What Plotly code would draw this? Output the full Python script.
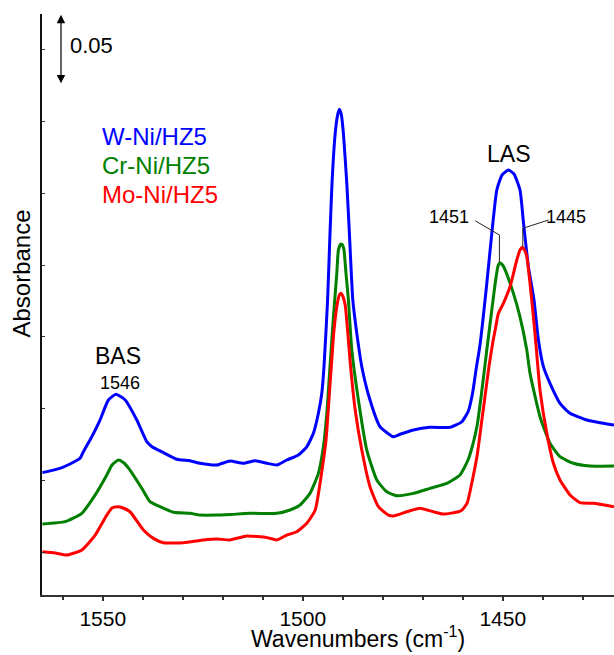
import plotly.graph_objects as go

FONT = "Liberation Sans, Arial, sans-serif"

# ---------------- data (wavenumber cm-1, absorbance a.u.) ----------------
wn_w = [1565.1, 1560.7, 1558.2, 1555.7, 1554.85, 1552.75, 1550.7, 1548.6, 1546.7, 1544.4,
        1541.5, 1539.0, 1537.7, 1534.85, 1531.5, 1528.2, 1525.7, 1521.5, 1518.2, 1514.85,
        1511.9, 1509.0, 1506.5, 1504.0, 1501.1, 1499.0, 1497.35, 1496.1, 1495.25, 1494.7,
        1493.8, 1493.2, 1492.7, 1491.9, 1491.3, 1490.85, 1490.35, 1489.85, 1489.0, 1488.35,
        1487.5, 1486.5, 1485.25, 1483.2, 1480.7, 1477.35, 1475.7, 1472.35, 1468.2, 1463.2,
        1460.25, 1458.6, 1457.55, 1456.7, 1455.7, 1454.0, 1452.75, 1451.5, 1450.2, 1448.6,
        1447.2, 1445.7, 1444.85, 1443.6, 1442.2, 1441.1, 1439.85, 1438.2, 1435.7, 1433.2,
        1429.0, 1425.7, 1422.2]
abs_w = [0.1056, 0.1086, 0.1116, 0.1156, 0.1202, 0.1306, 0.1422, 0.1561, 0.1601, 0.1561,
         0.1422, 0.1271, 0.1236, 0.1195, 0.1149, 0.1139, 0.1121, 0.1109, 0.1137, 0.1121,
         0.1139, 0.1121, 0.1109, 0.1144, 0.1179, 0.1236, 0.1330, 0.1469, 0.1608, 0.1793,
         0.2257, 0.2720, 0.3068, 0.3416, 0.3543, 0.3583, 0.3543, 0.3416, 0.3068, 0.2720,
         0.2257, 0.2025, 0.1793, 0.1561, 0.1376, 0.1306, 0.1323, 0.1353, 0.1371, 0.1371,
         0.1410, 0.1485, 0.1610, 0.1770, 0.1944, 0.2373, 0.2720, 0.3022, 0.3126, 0.3161,
         0.3133, 0.3022, 0.2800, 0.2488, 0.2257, 0.1978, 0.1793, 0.1677, 0.1538, 0.1469,
         0.1422, 0.1403, 0.1387]

wn_cr = [1565.1, 1559.4, 1555.25, 1551.9, 1549.0, 1547.7, 1546.1, 1544.7, 1543.2, 1540.25,
         1538.2, 1535.7, 1532.35, 1528.2, 1525.7, 1521.5, 1518.2, 1513.2, 1506.5, 1503.2,
         1500.7, 1498.2, 1496.1, 1494.85, 1494.0, 1493.2, 1492.4, 1491.5, 1491.1, 1490.5,
         1490.05, 1489.7, 1489.2, 1488.6, 1487.75, 1486.1, 1484.0, 1481.5, 1479.0, 1476.5,
         1472.35, 1468.2, 1464.0, 1460.7, 1458.7, 1457.4, 1456.4, 1455.4, 1454.0, 1452.75,
         1451.9, 1451.2, 1450.7, 1450.05, 1449.4, 1447.35, 1445.7, 1444.0, 1443.2, 1440.7,
         1438.2, 1435.7, 1432.35, 1428.2, 1422.2]
abs_cr = [0.0699, 0.0715, 0.0773, 0.0901, 0.1040, 0.1109, 0.1144, 0.1123, 0.1074, 0.0947,
          0.0854, 0.0819, 0.0780, 0.0773, 0.0761, 0.0761, 0.0765, 0.0773, 0.0773, 0.0796,
          0.0831, 0.0912, 0.1051, 0.1236, 0.1469, 0.1793, 0.2118, 0.2442, 0.2604, 0.2646,
          0.2639, 0.2604, 0.2442, 0.2257, 0.1909, 0.1561, 0.1213, 0.1005, 0.0923, 0.0896,
          0.0912, 0.0947, 0.0982, 0.1040, 0.1144, 0.1262, 0.1387, 0.1589, 0.1909, 0.2187,
          0.2373, 0.2493, 0.2516, 0.2500, 0.2465, 0.2303, 0.2140, 0.1909, 0.1747, 0.1445,
          0.1260, 0.1167, 0.1121, 0.1102, 0.1102]

wn_mo = [1565.1, 1561.9, 1559.0, 1555.25, 1551.9, 1549.0, 1547.7, 1546.35, 1544.9, 1543.2,
         1539.85, 1537.35, 1534.85, 1529.85, 1524.85, 1521.5, 1518.2, 1514.0, 1509.0, 1506.5,
         1504.0, 1501.5, 1499.0, 1496.9, 1495.2, 1494.2, 1493.2, 1492.2, 1491.3, 1490.8,
         1490.4, 1489.9, 1489.4, 1488.6, 1488.2, 1486.9, 1485.25, 1483.2, 1481.1, 1478.6,
         1477.35, 1474.0, 1470.7, 1467.35, 1464.85, 1461.1, 1460.2, 1458.9, 1457.7, 1456.4,
         1455.4, 1454.4, 1453.4, 1452.4, 1451.9, 1451.1, 1449.85, 1448.2, 1446.5, 1445.7,
         1445.1, 1444.55, 1444.0, 1443.2, 1442.35, 1441.7, 1440.7, 1439.0, 1437.35, 1435.7,
         1433.2, 1430.7, 1427.35, 1422.2]
abs_mo = [0.0506, 0.0497, 0.0483, 0.0518, 0.0622, 0.0761, 0.0810, 0.0819, 0.0810, 0.0784,
          0.0657, 0.0599, 0.0569, 0.0569, 0.0588, 0.0595, 0.0588, 0.0615, 0.0604, 0.0588,
          0.0622, 0.0645, 0.0704, 0.0796, 0.1074, 0.1283, 0.1666, 0.2048, 0.2243, 0.2295,
          0.2303, 0.2277, 0.2222, 0.1978, 0.1839, 0.1492, 0.1213, 0.0958, 0.0819, 0.0761,
          0.0755, 0.0784, 0.0808, 0.0784, 0.0768, 0.0784, 0.0796, 0.0845, 0.0991, 0.1179,
          0.1387, 0.1596, 0.1805, 0.1978, 0.2048, 0.2164, 0.2234, 0.2349, 0.2535, 0.2604,
          0.2623, 0.2604, 0.2558, 0.2373, 0.2140, 0.1944, 0.1631, 0.1330, 0.1121, 0.1005,
          0.0901, 0.0847, 0.0843, 0.0819]

series_names = ["W-Ni/HZ5", "Cr-Ni/HZ5", "Mo-Ni/HZ5"]
series_colors = ["#0000ff", "#007f00", "#ff0000"]
x_ticks = [1550, 1500, 1450]
y_ticks = [0.05, 0.10, 0.15, 0.20, 0.25, 0.30, 0.35, 0.40]

fig = go.Figure()
for wn, ab, col, nm in zip([wn_w, wn_cr, wn_mo], [abs_w, abs_cr, abs_mo],
                           series_colors, series_names):
    fig.add_trace(go.Scatter(x=wn, y=ab, mode="lines", name=nm, showlegend=False,
                             hoverinfo="skip",
                             line=dict(color=col, width=3, shape="spline", smoothing=0.5)))

# leader lines for peak labels
fig.add_shape(type="path", path="M 1456.9 0.2808 L 1450.85 0.2709 L 1450.85 0.2523",
              xref="x", yref="y", line=dict(color="#222", width=1))
fig.add_shape(type="path", path="M 1438.6 0.2813 L 1445.0 0.2755 L 1445.0 0.2627",
              xref="x", yref="y", line=dict(color="#222", width=1))

ann = []
for nm, col, yy in zip(series_names, series_colors, [0.790, 0.740, 0.6885]):
    ann.append(dict(text=nm, x=0.1014, y=yy, xref="paper", yref="paper", xanchor="left",
                    yanchor="middle", showarrow=False, font=dict(size=24, color=col, family=FONT)))
ann += [
    dict(text="BAS", x=1546.2, y=0.1867, xref="x", yref="y", showarrow=False,
         font=dict(size=23, color="black", family=FONT)),
    dict(text="1546", x=1545.7, y=0.1677, xref="x", yref="y", showarrow=False,
         font=dict(size=18, color="black", family=FONT)),
    dict(text="LAS", x=1448.55, y=0.3275, xref="x", yref="y", showarrow=False,
         font=dict(size=23, color="black", family=FONT)),
    dict(text="1451", x=1463.5, y=0.2836, xref="x", yref="y", showarrow=False,
         font=dict(size=18, color="black", family=FONT)),
    dict(text="1445", x=1434.1, y=0.2836, xref="x", yref="y", showarrow=False,
         font=dict(size=18, color="black", family=FONT)),
]
ann.append(dict(text="", x=0.0332, y=0.8807, xref="paper", yref="paper", ax=0, ay=-70,
                axref="pixel", ayref="pixel", showarrow=True, arrowside="end+start",
                arrowhead=2, arrowsize=1.4, arrowwidth=1.2, arrowcolor="black"))
ann.append(dict(text="0.05", x=0.0455, y=0.945, xref="paper", yref="paper", xanchor="left",
                yanchor="middle", showarrow=False, font=dict(size=22, color="black", family=FONT)))
ann.append(dict(text="Absorbance", x=-0.036, y=0.554, xref="paper", yref="paper",
                textangle=-90, showarrow=False, xanchor="center", yanchor="middle",
                font=dict(size=24, color="black", family=FONT)))
ann.append(dict(text="Wavenumbers (cm<sup>-1</sup>)", x=0.553, y=-0.1015, xref="paper",
                yref="paper", showarrow=False, xanchor="center", yanchor="bottom",
                font=dict(size=23, color="black", family=FONT)))

fig.update_layout(
    width=614, height=655,
    margin=dict(l=42, r=0, t=14, b=60),
    paper_bgcolor="white", plot_bgcolor="white",
    annotations=ann,
    hovermode=False,
    xaxis=dict(range=[1565.2, 1422.2], tickmode="array", tickvals=x_ticks,
               ticktext=[str(v) for v in x_ticks], ticks="outside", ticklen=4, tickwidth=1.5,
               tickcolor="#333", showline=True, linewidth=2, linecolor="#333",
               showgrid=False, zeroline=False,
               minor=dict(tickmode="linear", tick0=1550, dtick=10, ticks="outside", ticklen=3,
                          tickcolor="#333", showgrid=False),
               tickfont=dict(size=21, color="black", family=FONT)),
    yaxis=dict(range=[0.0205, 0.4246], tickmode="array", tickvals=y_ticks, ticks="inside",
               ticklen=3, tickcolor="#333", showticklabels=False, showline=True, linewidth=2,
               linecolor="#111", showgrid=False, zeroline=False),
)

fig.write_html("out.html", config={"displayModeBar": False},
               post_script="document.body.style.margin='0px';")
